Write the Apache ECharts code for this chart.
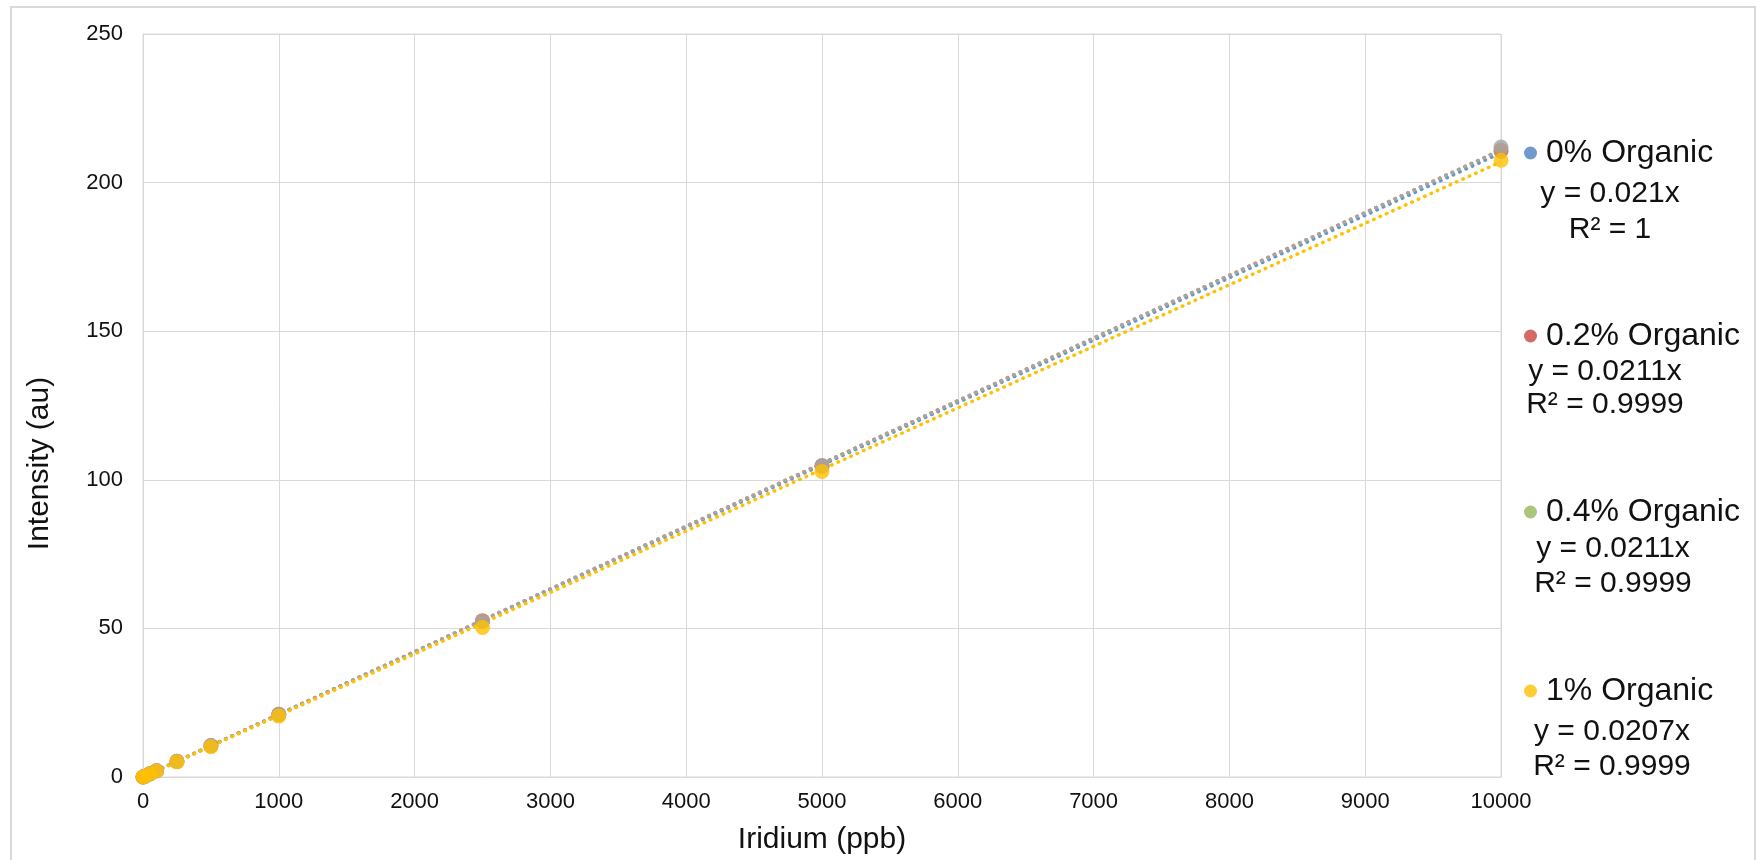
<!DOCTYPE html>
<html>
<head>
<meta charset="utf-8">
<script src="https://cdn.jsdelivr.net/npm/echarts@6/dist/echarts.min.js"></script>
<style>
html,body{margin:0;padding:0;background:#fff;}
#chart{width:1756px;height:860px;}
</style>
</head>
<body>
<div id="chart"></div>
<script>
// ---- data ----
const iridium = [0, 10, 50, 100, 250, 500, 1000, 2500, 5000, 10000];
const organic0   = [0, 0.21, 1.05, 2.1, 5.25, 10.5, 21.0, 52.5, 104.8, 210.5];
const organic02  = [0, 0.21, 1.06, 2.1, 5.3, 10.5, 21.1, 52.6, 104.6, 211.0];
const organic04  = [0, 0.21, 1.06, 2.1, 5.3, 10.6, 21.1, 52.3, 104.5, 212.0];
const organic1   = [0, 0.20, 1.0, 2.0, 5.1, 10.2, 20.5, 50.3, 102.8, 207.5];
const seriesNames = ['0% Organic', '0.2% Organic', '0.4% Organic', '1% Organic'];
const slopes = [0.021, 0.0211, 0.0211, 0.0207];
const equations = ['y = 0.021x', 'y = 0.0211x', 'y = 0.0211x', 'y = 0.0207x'];
const rSquared = ['R² = 1', 'R² = 0.9999', 'R² = 0.9999', 'R² = 0.9999'];
const xMin = 0, xMax = 10000, xStep = 1000;
const yMin = 0, yMax = 250, yStep = 50;

const markerColors = ['#5B9BD5', '#ED7D31', '#A5A5A5', '#FFC000'];
const legendColors = ['#4F7FBF', '#C9443F', '#97B957', '#FFC000'];
const FONT = 'Liberation Sans, Arial, sans-serif';

const allValues = [organic0, organic02, organic04, organic1];

const series = [];
// trendlines first (underneath)
allValues.forEach((vals, i) => {
  series.push({
    name: seriesNames[i] + ' trend',
    type: 'line',
    data: [[xMin, 0], [xMax, slopes[i] * xMax]],
    showSymbol: false,
    symbol: 'none',
    silent: true,
    lineStyle: { color: markerColors[i], width: 3.5, type: [0.5, 6.5], cap: 'round' },
    z: 2
  });
});
allValues.forEach((vals, i) => {
  series.push({
    name: seriesNames[i],
    type: 'scatter',
    data: iridium.map((x, k) => [x, vals[k]]),
    symbol: 'circle',
    symbolSize: 15,
    itemStyle: { color: markerColors[i] },
    z: 3 + i
  });
});

const legendCenters = [153, 336, 512, 691];
const legends = seriesNames.map((n, i) => ({
  data: [{ name: n, icon: 'circle', itemStyle: { color: legendColors[i] } }],
  left: 1524,
  top: legendCenters[i] - 18,
  padding: 0,
  itemWidth: 13,
  itemHeight: 13,
  selectedMode: false,
  textStyle: { fontFamily: FONT, fontSize: 32, color: '#111', lineHeight: 36, padding: [0, 0, 0, 4] }
}));

const eqCenters = [[1610, 194, 230], [1605, 372, 405], [1613, 549, 584], [1612, 732, 767]];
const graphics = [{
  type: 'rect',
  shape: { x: 11, y: 7, width: 1744, height: 900 },
  style: { fill: 'none', stroke: '#D9D9D9', lineWidth: 2 },
  silent: true
}];
eqCenters.forEach((c, i) => {
  graphics.push({
    type: 'text', x: c[0], y: c[1],
    style: { text: equations[i], font: '30px ' + FONT, fill: '#111', textAlign: 'center', textVerticalAlign: 'middle' }
  });
  graphics.push({
    type: 'text', x: c[0], y: c[2],
    style: { text: rSquared[i], font: '30px ' + FONT, fill: '#111', textAlign: 'center', textVerticalAlign: 'middle' }
  });
});

const chart = echarts.init(document.getElementById('chart'));
chart.setOption({
  animation: false,
  backgroundColor: '#fff',
  grid: { left: 143, top: 34, right: 255, bottom: 83, show: true, borderColor: '#D9D9D9', borderWidth: 1 },
  legend: legends,
  xAxis: {
    type: 'value', min: xMin, max: xMax, interval: xStep,
    name: 'Iridium (ppb)', nameLocation: 'middle', nameGap: 48,
    nameTextStyle: { fontFamily: FONT, fontSize: 30, color: '#111' },
    axisLine: { show: true, lineStyle: { color: '#D9D9D9', width: 1 } },
    axisTick: { show: false },
    axisLabel: { fontFamily: FONT, fontSize: 22, color: '#111', margin: 14, formatter: v => String(v) },
    splitLine: { show: true, lineStyle: { color: '#D9D9D9', width: 1 } }
  },
  yAxis: {
    type: 'value', min: yMin, max: yMax, interval: yStep,
    name: 'Intensity (au)', nameLocation: 'middle', nameGap: 88,
    nameTextStyle: { fontFamily: FONT, fontSize: 30, color: '#111', padding: [0, 116, 0, 0] },
    axisLine: { show: true, lineStyle: { color: '#D9D9D9', width: 1 } },
    axisTick: { show: false },
    axisLabel: { fontFamily: FONT, fontSize: 22, color: '#111', margin: 20, formatter: v => String(v) },
    splitLine: { show: true, lineStyle: { color: '#D9D9D9', width: 1 } }
  },
  graphic: graphics,
  series: series
});
</script>
</body>
</html>
